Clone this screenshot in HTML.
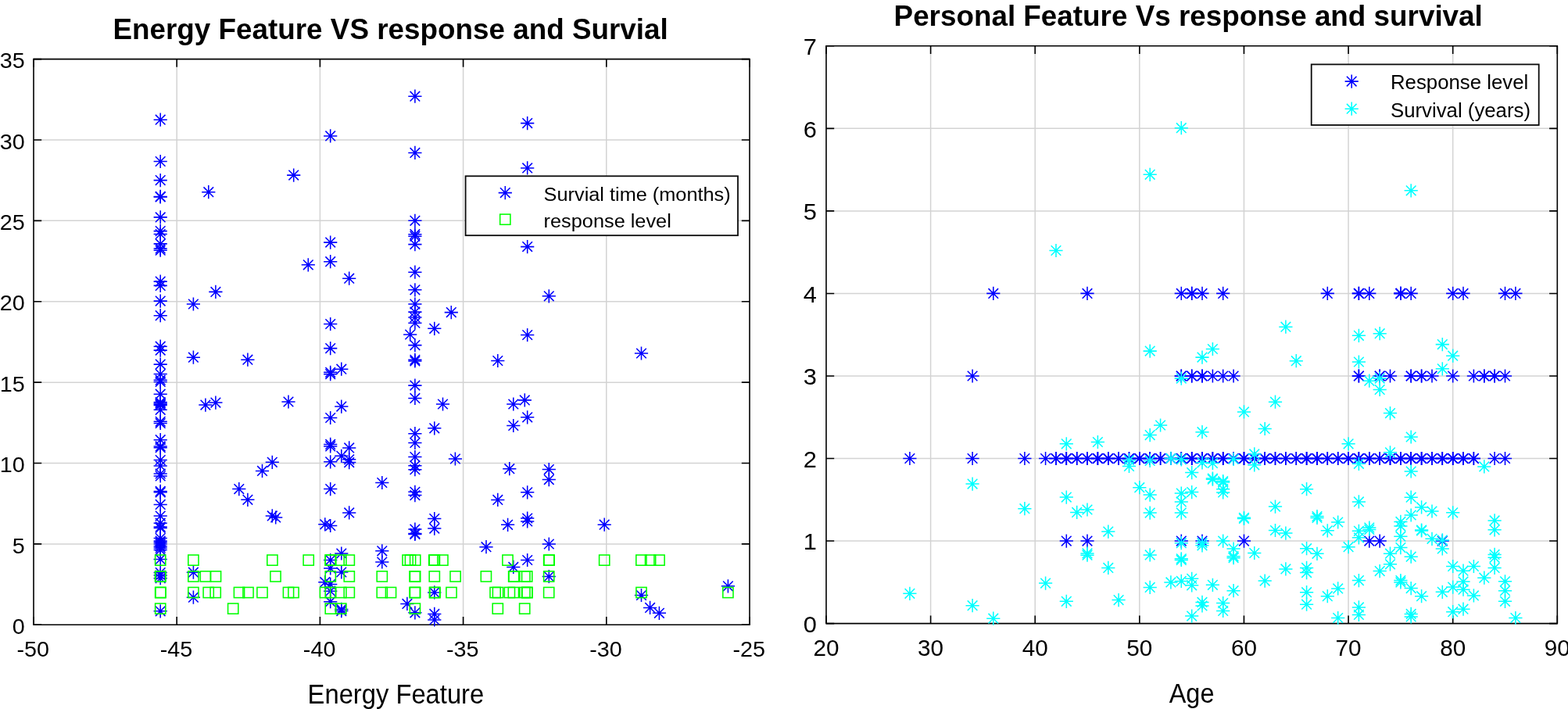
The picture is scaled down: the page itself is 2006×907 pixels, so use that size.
<!DOCTYPE html>
<html><head><meta charset="utf-8"><title>Feature plots</title>
<style>html,body{margin:0;padding:0;background:#fff;}body{width:2006px;height:907px;overflow:hidden;}svg{display:block;font-family:"Liberation Sans",sans-serif;}.g{stroke:#d3d3d3;stroke-width:1.5;fill:none}.ax{stroke:#000;stroke-width:1.6;fill:none}.b use{stroke:#0000ff}.c use{stroke:#00ffff}.s use{stroke:#00ff00}</style></head><body>
<svg width="2006" height="907" viewBox="0 0 2006 907">
<defs>
<g id="a" fill="none" stroke-width="1.55" stroke-linecap="butt"><path d="M-8.60 0H8.60M0 -8.60V8.60M-6.30 -6.30L6.30 6.30M-6.30 6.30L6.30 -6.30"/></g>
<rect id="q" x="-6.60" y="-6.60" width="13.20" height="13.20" fill="none" stroke-width="1.55"/>
</defs>
<rect width="2006" height="907" fill="#fff"/>
<path class="g" d="M226.20 75.60V799.30M409.40 75.60V799.30M592.60 75.60V799.30M775.80 75.60V799.30M43.00 695.91H959.00M43.00 592.53H959.00M43.00 489.14H959.00M43.00 385.76H959.00M43.00 282.37H959.00M43.00 178.99H959.00"/>
<path class="ax" d="M43.00 75.60H959.00V799.30H43.00Z"/>
<path class="ax" d="M43.00 799.30v-10.20M43.00 75.60v10.20M226.20 799.30v-10.20M226.20 75.60v10.20M409.40 799.30v-10.20M409.40 75.60v10.20M592.60 799.30v-10.20M592.60 75.60v10.20M775.80 799.30v-10.20M775.80 75.60v10.20M959.00 799.30v-10.20M959.00 75.60v10.20M43.00 799.30h10.20M959.00 799.30h-10.20M43.00 695.91h10.20M959.00 695.91h-10.20M43.00 592.53h10.20M959.00 592.53h-10.20M43.00 489.14h10.20M959.00 489.14h-10.20M43.00 385.76h10.20M959.00 385.76h-10.20M43.00 282.37h10.20M959.00 282.37h-10.20M43.00 178.99h10.20M959.00 178.99h-10.20M43.00 75.60h10.20M959.00 75.60h-10.20"/>
<g class="b">
<use href="#a" x="205.2" y="153.2"/><use href="#a" x="205.2" y="206.5"/><use href="#a" x="205.2" y="230.6"/><use href="#a" x="205.2" y="251.4"/><use href="#a" x="205.2" y="252.0"/><use href="#a" x="205.2" y="277.9"/><use href="#a" x="205.2" y="295.6"/><use href="#a" x="205.2" y="299.5"/><use href="#a" x="205.2" y="311.9"/><use href="#a" x="205.2" y="318.0"/><use href="#a" x="205.2" y="320.2"/><use href="#a" x="205.2" y="360.1"/><use href="#a" x="205.2" y="365.4"/><use href="#a" x="205.2" y="385.1"/><use href="#a" x="205.2" y="403.7"/><use href="#a" x="205.2" y="443.2"/><use href="#a" x="205.2" y="448.1"/><use href="#a" x="205.2" y="466.1"/><use href="#a" x="205.2" y="478.5"/><use href="#a" x="205.2" y="486.2"/><use href="#a" x="205.2" y="488.4"/><use href="#a" x="205.2" y="504.2"/><use href="#a" x="205.2" y="514.5"/><use href="#a" x="205.2" y="515.9"/><use href="#a" x="205.2" y="517.3"/><use href="#a" x="205.2" y="518.4"/><use href="#a" x="205.2" y="524.3"/><use href="#a" x="205.2" y="539.3"/><use href="#a" x="205.2" y="541.5"/><use href="#a" x="205.2" y="562.7"/><use href="#a" x="205.2" y="570.9"/><use href="#a" x="205.2" y="572.7"/><use href="#a" x="205.2" y="588.6"/><use href="#a" x="205.2" y="595.9"/><use href="#a" x="205.2" y="606.0"/><use href="#a" x="205.2" y="609.0"/><use href="#a" x="205.2" y="628.4"/><use href="#a" x="205.2" y="629.8"/><use href="#a" x="205.2" y="645.4"/><use href="#a" x="205.2" y="660.1"/><use href="#a" x="205.2" y="669.2"/><use href="#a" x="205.2" y="674.1"/><use href="#a" x="205.2" y="675.5"/><use href="#a" x="205.2" y="688.5"/><use href="#a" x="205.2" y="692.0"/><use href="#a" x="205.2" y="693.7"/><use href="#a" x="205.2" y="695.9"/><use href="#a" x="205.2" y="698.7"/><use href="#a" x="205.2" y="700.9"/><use href="#a" x="205.2" y="703.6"/><use href="#a" x="205.2" y="715.4"/><use href="#a" x="205.2" y="732.5"/><use href="#a" x="205.2" y="736.0"/><use href="#a" x="205.2" y="739.7"/><use href="#a" x="205.2" y="781.8"/><use href="#a" x="247.4" y="389.0"/><use href="#a" x="247.4" y="457.2"/><use href="#a" x="247.4" y="732.2"/><use href="#a" x="247.4" y="764.2"/><use href="#a" x="262.9" y="518.1"/><use href="#a" x="266.8" y="245.7"/><use href="#a" x="275.9" y="515.1"/><use href="#a" x="275.9" y="373.4"/><use href="#a" x="305.8" y="625.6"/><use href="#a" x="316.9" y="460.2"/><use href="#a" x="316.9" y="639.3"/><use href="#a" x="335.5" y="602.4"/><use href="#a" x="348.3" y="591.3"/><use href="#a" x="348.3" y="659.9"/><use href="#a" x="352.7" y="662.0"/><use href="#a" x="369.0" y="514.0"/><use href="#a" x="375.7" y="224.1"/><use href="#a" x="394.3" y="338.8"/><use href="#a" x="415.8" y="670.8"/><use href="#a" x="415.8" y="744.7"/><use href="#a" x="422.7" y="173.9"/><use href="#a" x="422.7" y="310.1"/><use href="#a" x="422.7" y="334.7"/><use href="#a" x="422.7" y="414.5"/><use href="#a" x="422.7" y="445.6"/><use href="#a" x="422.7" y="476.3"/><use href="#a" x="422.7" y="478.6"/><use href="#a" x="422.7" y="534.5"/><use href="#a" x="422.7" y="568.4"/><use href="#a" x="422.7" y="570.9"/><use href="#a" x="422.7" y="590.8"/><use href="#a" x="422.7" y="625.6"/><use href="#a" x="422.7" y="672.5"/><use href="#a" x="422.7" y="716.5"/><use href="#a" x="422.7" y="727.0"/><use href="#a" x="422.7" y="747.4"/><use href="#a" x="422.7" y="756.2"/><use href="#a" x="422.7" y="769.7"/><use href="#a" x="436.8" y="472.2"/><use href="#a" x="436.8" y="520.1"/><use href="#a" x="436.8" y="583.3"/><use href="#a" x="436.8" y="708.0"/><use href="#a" x="436.8" y="732.0"/><use href="#a" x="436.8" y="779.4"/><use href="#a" x="436.8" y="781.6"/><use href="#a" x="446.7" y="356.2"/><use href="#a" x="446.7" y="572.9"/><use href="#a" x="446.7" y="587.8"/><use href="#a" x="446.7" y="591.6"/><use href="#a" x="446.7" y="655.9"/><use href="#a" x="488.8" y="617.5"/><use href="#a" x="488.8" y="704.8"/><use href="#a" x="488.8" y="719.0"/><use href="#a" x="520.9" y="772.4"/><use href="#a" x="524.7" y="428.0"/><use href="#a" x="530.9" y="123.2"/><use href="#a" x="530.9" y="195.4"/><use href="#a" x="530.9" y="282.3"/><use href="#a" x="530.9" y="299.7"/><use href="#a" x="530.9" y="302.2"/><use href="#a" x="530.9" y="312.6"/><use href="#a" x="530.9" y="348.2"/><use href="#a" x="530.9" y="370.8"/><use href="#a" x="530.9" y="389.0"/><use href="#a" x="530.9" y="399.1"/><use href="#a" x="530.9" y="406.0"/><use href="#a" x="530.9" y="413.2"/><use href="#a" x="530.9" y="441.6"/><use href="#a" x="530.9" y="460.3"/><use href="#a" x="530.9" y="462.0"/><use href="#a" x="530.9" y="493.1"/><use href="#a" x="530.9" y="509.4"/><use href="#a" x="530.9" y="554.7"/><use href="#a" x="530.9" y="566.5"/><use href="#a" x="530.9" y="584.5"/><use href="#a" x="530.9" y="595.8"/><use href="#a" x="530.9" y="600.7"/><use href="#a" x="530.9" y="629.3"/><use href="#a" x="530.9" y="633.6"/><use href="#a" x="530.9" y="677.1"/><use href="#a" x="530.9" y="682.4"/><use href="#a" x="530.9" y="683.5"/><use href="#a" x="530.9" y="783.8"/><use href="#a" x="555.8" y="420.3"/><use href="#a" x="555.8" y="547.8"/><use href="#a" x="555.8" y="663.5"/><use href="#a" x="555.8" y="676.1"/><use href="#a" x="555.8" y="757.9"/><use href="#a" x="555.8" y="785.4"/><use href="#a" x="555.8" y="792.9"/><use href="#a" x="566.5" y="517.0"/><use href="#a" x="577.3" y="399.6"/><use href="#a" x="582.4" y="587.0"/><use href="#a" x="622.0" y="699.7"/><use href="#a" x="636.8" y="461.5"/><use href="#a" x="636.8" y="639.4"/><use href="#a" x="649.6" y="671.3"/><use href="#a" x="651.8" y="599.7"/><use href="#a" x="656.8" y="517.0"/><use href="#a" x="656.8" y="544.5"/><use href="#a" x="656.8" y="725.4"/><use href="#a" x="671.3" y="511.9"/><use href="#a" x="674.7" y="157.6"/><use href="#a" x="674.7" y="214.9"/><use href="#a" x="674.7" y="315.6"/><use href="#a" x="674.7" y="428.5"/><use href="#a" x="674.7" y="533.8"/><use href="#a" x="674.7" y="629.8"/><use href="#a" x="674.7" y="663.0"/><use href="#a" x="674.7" y="667.0"/><use href="#a" x="674.7" y="716.5"/><use href="#a" x="702.3" y="378.8"/><use href="#a" x="702.3" y="600.6"/><use href="#a" x="702.3" y="613.6"/><use href="#a" x="702.3" y="696.0"/><use href="#a" x="702.3" y="737.5"/><use href="#a" x="773.2" y="671.2"/><use href="#a" x="820.5" y="452.0"/><use href="#a" x="820.5" y="761.5"/><use href="#a" x="831.6" y="777.4"/><use href="#a" x="843.4" y="784.3"/><use href="#a" x="931.4" y="749.8"/>
</g>
<g class="s">
<use href="#q" x="205.2" y="716.6"/><use href="#q" x="247.4" y="716.6"/><use href="#q" x="348.4" y="716.6"/><use href="#q" x="394.7" y="716.6"/><use href="#q" x="422.8" y="716.6"/><use href="#q" x="422.8" y="716.6"/><use href="#q" x="436.3" y="716.6"/><use href="#q" x="446.8" y="716.6"/><use href="#q" x="521.6" y="716.6"/><use href="#q" x="525.0" y="716.6"/><use href="#q" x="531.2" y="716.6"/><use href="#q" x="555.3" y="716.6"/><use href="#q" x="555.9" y="716.6"/><use href="#q" x="566.4" y="716.6"/><use href="#q" x="649.5" y="716.6"/><use href="#q" x="702.2" y="716.6"/><use href="#q" x="702.6" y="716.6"/><use href="#q" x="773.2" y="716.6"/><use href="#q" x="820.4" y="716.6"/><use href="#q" x="832.1" y="716.6"/><use href="#q" x="843.5" y="716.6"/><use href="#q" x="205.2" y="737.4"/><use href="#q" x="205.2" y="737.4"/><use href="#q" x="247.4" y="737.4"/><use href="#q" x="262.9" y="737.4"/><use href="#q" x="276.0" y="737.4"/><use href="#q" x="352.5" y="737.4"/><use href="#q" x="422.8" y="737.4"/><use href="#q" x="446.8" y="737.4"/><use href="#q" x="488.8" y="737.4"/><use href="#q" x="530.7" y="737.4"/><use href="#q" x="531.1" y="737.4"/><use href="#q" x="555.8" y="737.4"/><use href="#q" x="582.6" y="737.4"/><use href="#q" x="621.9" y="737.4"/><use href="#q" x="657.2" y="737.4"/><use href="#q" x="657.6" y="737.4"/><use href="#q" x="671.4" y="737.4"/><use href="#q" x="674.2" y="737.4"/><use href="#q" x="702.2" y="737.4"/><use href="#q" x="205.2" y="758.0"/><use href="#q" x="205.5" y="758.0"/><use href="#q" x="247.4" y="758.0"/><use href="#q" x="266.7" y="758.0"/><use href="#q" x="275.7" y="758.0"/><use href="#q" x="306.0" y="758.0"/><use href="#q" x="317.5" y="758.0"/><use href="#q" x="335.5" y="758.0"/><use href="#q" x="369.0" y="758.0"/><use href="#q" x="375.5" y="758.0"/><use href="#q" x="416.0" y="758.0"/><use href="#q" x="422.8" y="758.0"/><use href="#q" x="436.3" y="758.0"/><use href="#q" x="446.8" y="758.0"/><use href="#q" x="488.8" y="758.0"/><use href="#q" x="500.0" y="758.0"/><use href="#q" x="530.7" y="758.0"/><use href="#q" x="531.1" y="758.0"/><use href="#q" x="556.0" y="758.0"/><use href="#q" x="556.5" y="758.0"/><use href="#q" x="577.5" y="758.0"/><use href="#q" x="633.6" y="758.0"/><use href="#q" x="637.0" y="758.0"/><use href="#q" x="651.9" y="758.0"/><use href="#q" x="656.9" y="758.0"/><use href="#q" x="671.4" y="758.0"/><use href="#q" x="674.2" y="758.0"/><use href="#q" x="674.6" y="758.0"/><use href="#q" x="702.2" y="758.0"/><use href="#q" x="820.5" y="758.0"/><use href="#q" x="931.4" y="758.0"/><use href="#q" x="205.2" y="778.6"/><use href="#q" x="298.2" y="778.6"/><use href="#q" x="422.8" y="778.6"/><use href="#q" x="436.3" y="778.6"/><use href="#q" x="530.9" y="778.6"/><use href="#q" x="636.8" y="778.6"/><use href="#q" x="671.2" y="778.6"/>
</g>
<text transform="translate(42.20 840.00) scale(1.0420 1)" font-size="27.60px" text-anchor="middle">-50</text>
<text transform="translate(225.40 840.00) scale(1.0420 1)" font-size="27.60px" text-anchor="middle">-45</text>
<text transform="translate(408.60 840.00) scale(1.0420 1)" font-size="27.60px" text-anchor="middle">-40</text>
<text transform="translate(591.80 840.00) scale(1.0420 1)" font-size="27.60px" text-anchor="middle">-35</text>
<text transform="translate(775.00 840.00) scale(1.0420 1)" font-size="27.60px" text-anchor="middle">-30</text>
<text transform="translate(958.20 840.00) scale(1.0420 1)" font-size="27.60px" text-anchor="middle">-25</text>
<text transform="translate(31.70 811.00) scale(1.0420 1)" font-size="27.60px" text-anchor="end">0</text>
<text transform="translate(31.70 707.61) scale(1.0420 1)" font-size="27.60px" text-anchor="end">5</text>
<text transform="translate(31.70 604.23) scale(1.0420 1)" font-size="27.60px" text-anchor="end">10</text>
<text transform="translate(31.70 500.84) scale(1.0420 1)" font-size="27.60px" text-anchor="end">15</text>
<text transform="translate(31.70 397.46) scale(1.0420 1)" font-size="27.60px" text-anchor="end">20</text>
<text transform="translate(31.70 294.07) scale(1.0420 1)" font-size="27.60px" text-anchor="end">25</text>
<text transform="translate(31.70 190.69) scale(1.0420 1)" font-size="27.60px" text-anchor="end">30</text>
<text transform="translate(31.70 87.30) scale(1.0420 1)" font-size="27.60px" text-anchor="end">35</text>
<text x="499.60" y="50.10" font-size="36.85px" text-anchor="middle" font-weight="bold">Energy Feature VS response and Survial</text>
<text transform="translate(506.40 900.00) scale(0.9550 1)" font-size="34.30px" text-anchor="middle">Energy Feature</text>
<rect x="595.6" y="225.3" width="348.4" height="75.9" fill="#fff" stroke="#0a0a0a" stroke-width="1.8"/>
<g class="b"><use href="#a" x="646.3" y="246.6"/></g>
<g class="s"><use href="#q" x="646.3" y="280.7"/></g>
<text transform="translate(695.60 256.60) scale(1.0550 1)" font-size="24.00px">Survial time (months)</text>
<text transform="translate(695.60 290.80) scale(1.0550 1)" font-size="24.00px">response level</text>
<path class="g" d="M1190.61 58.80V797.60M1324.23 58.80V797.60M1457.84 58.80V797.60M1591.46 58.80V797.60M1725.07 58.80V797.60M1858.69 58.80V797.60M1057.00 692.06H1992.30M1057.00 586.51H1992.30M1057.00 480.97H1992.30M1057.00 375.43H1992.30M1057.00 269.89H1992.30M1057.00 164.34H1992.30"/>
<path class="ax" d="M1057.00 58.80H1992.30V797.60H1057.00Z"/>
<path class="ax" d="M1057.00 797.60v-10.20M1057.00 58.80v10.20M1190.61 797.60v-10.20M1190.61 58.80v10.20M1324.23 797.60v-10.20M1324.23 58.80v10.20M1457.84 797.60v-10.20M1457.84 58.80v10.20M1591.46 797.60v-10.20M1591.46 58.80v10.20M1725.07 797.60v-10.20M1725.07 58.80v10.20M1858.69 797.60v-10.20M1858.69 58.80v10.20M1992.30 797.60v-10.20M1992.30 58.80v10.20M1057.00 797.60h10.20M1992.30 797.60h-10.20M1057.00 692.06h10.20M1992.30 692.06h-10.20M1057.00 586.51h10.20M1992.30 586.51h-10.20M1057.00 480.97h10.20M1992.30 480.97h-10.20M1057.00 375.43h10.20M1992.30 375.43h-10.20M1057.00 269.89h10.20M1992.30 269.89h-10.20M1057.00 164.34h10.20M1992.30 164.34h-10.20M1057.00 58.80h10.20M1992.30 58.80h-10.20"/>
<g class="b">
<use href="#a" x="1270.8" y="375.4"/><use href="#a" x="1391.0" y="375.4"/><use href="#a" x="1511.3" y="375.4"/><use href="#a" x="1524.7" y="375.4"/><use href="#a" x="1538.0" y="375.4"/><use href="#a" x="1564.7" y="375.4"/><use href="#a" x="1698.3" y="375.4"/><use href="#a" x="1738.4" y="375.4"/><use href="#a" x="1751.8" y="375.4"/><use href="#a" x="1791.9" y="375.4"/><use href="#a" x="1791.9" y="375.4"/><use href="#a" x="1805.2" y="375.4"/><use href="#a" x="1858.7" y="375.4"/><use href="#a" x="1872.0" y="375.4"/><use href="#a" x="1925.5" y="375.4"/><use href="#a" x="1938.9" y="375.4"/><use href="#a" x="1244.1" y="481.0"/><use href="#a" x="1511.3" y="481.0"/><use href="#a" x="1524.7" y="481.0"/><use href="#a" x="1538.0" y="481.0"/><use href="#a" x="1551.4" y="481.0"/><use href="#a" x="1564.7" y="481.0"/><use href="#a" x="1578.1" y="481.0"/><use href="#a" x="1738.4" y="481.0"/><use href="#a" x="1765.2" y="481.0"/><use href="#a" x="1778.5" y="481.0"/><use href="#a" x="1805.2" y="481.0"/><use href="#a" x="1818.6" y="481.0"/><use href="#a" x="1832.0" y="481.0"/><use href="#a" x="1858.7" y="481.0"/><use href="#a" x="1885.4" y="481.0"/><use href="#a" x="1898.8" y="481.0"/><use href="#a" x="1912.1" y="481.0"/><use href="#a" x="1925.5" y="481.0"/><use href="#a" x="1163.9" y="586.5"/><use href="#a" x="1244.1" y="586.5"/><use href="#a" x="1310.9" y="586.5"/><use href="#a" x="1337.6" y="586.5"/><use href="#a" x="1351.0" y="586.5"/><use href="#a" x="1364.3" y="586.5"/><use href="#a" x="1377.7" y="586.5"/><use href="#a" x="1391.0" y="586.5"/><use href="#a" x="1404.4" y="586.5"/><use href="#a" x="1417.8" y="586.5"/><use href="#a" x="1431.1" y="586.5"/><use href="#a" x="1444.5" y="586.5"/><use href="#a" x="1457.8" y="586.5"/><use href="#a" x="1471.2" y="586.5"/><use href="#a" x="1484.6" y="586.5"/><use href="#a" x="1497.9" y="586.5"/><use href="#a" x="1511.3" y="586.5"/><use href="#a" x="1524.7" y="586.5"/><use href="#a" x="1538.0" y="586.5"/><use href="#a" x="1551.4" y="586.5"/><use href="#a" x="1564.7" y="586.5"/><use href="#a" x="1578.1" y="586.5"/><use href="#a" x="1591.5" y="586.5"/><use href="#a" x="1604.8" y="586.5"/><use href="#a" x="1618.2" y="586.5"/><use href="#a" x="1631.5" y="586.5"/><use href="#a" x="1644.9" y="586.5"/><use href="#a" x="1658.3" y="586.5"/><use href="#a" x="1671.6" y="586.5"/><use href="#a" x="1685.0" y="586.5"/><use href="#a" x="1698.3" y="586.5"/><use href="#a" x="1711.7" y="586.5"/><use href="#a" x="1725.1" y="586.5"/><use href="#a" x="1738.4" y="586.5"/><use href="#a" x="1751.8" y="586.5"/><use href="#a" x="1765.2" y="586.5"/><use href="#a" x="1778.5" y="586.5"/><use href="#a" x="1791.9" y="586.5"/><use href="#a" x="1805.2" y="586.5"/><use href="#a" x="1818.6" y="586.5"/><use href="#a" x="1832.0" y="586.5"/><use href="#a" x="1845.3" y="586.5"/><use href="#a" x="1858.7" y="586.5"/><use href="#a" x="1872.0" y="586.5"/><use href="#a" x="1885.4" y="586.5"/><use href="#a" x="1912.1" y="586.5"/><use href="#a" x="1925.5" y="586.5"/><use href="#a" x="1364.3" y="692.1"/><use href="#a" x="1391.0" y="692.1"/><use href="#a" x="1511.3" y="692.1"/><use href="#a" x="1538.0" y="692.1"/><use href="#a" x="1591.5" y="692.1"/><use href="#a" x="1751.8" y="692.1"/><use href="#a" x="1765.2" y="692.1"/><use href="#a" x="1845.3" y="692.1"/><use href="#a" x="1351.0" y="586.5"/><use href="#a" x="1364.3" y="586.5"/><use href="#a" x="1377.7" y="586.5"/><use href="#a" x="1391.0" y="586.5"/><use href="#a" x="1404.4" y="586.5"/><use href="#a" x="1417.8" y="586.5"/><use href="#a" x="1431.1" y="586.5"/><use href="#a" x="1444.5" y="586.5"/><use href="#a" x="1457.8" y="586.5"/><use href="#a" x="1471.2" y="586.5"/><use href="#a" x="1484.6" y="586.5"/><use href="#a" x="1497.9" y="586.5"/><use href="#a" x="1511.3" y="586.5"/><use href="#a" x="1524.7" y="586.5"/><use href="#a" x="1538.0" y="586.5"/><use href="#a" x="1551.4" y="586.5"/><use href="#a" x="1564.7" y="586.5"/><use href="#a" x="1578.1" y="586.5"/><use href="#a" x="1591.5" y="586.5"/><use href="#a" x="1604.8" y="586.5"/><use href="#a" x="1618.2" y="586.5"/><use href="#a" x="1631.5" y="586.5"/><use href="#a" x="1644.9" y="586.5"/><use href="#a" x="1658.3" y="586.5"/><use href="#a" x="1671.6" y="586.5"/><use href="#a" x="1685.0" y="586.5"/><use href="#a" x="1698.3" y="586.5"/><use href="#a" x="1711.7" y="586.5"/><use href="#a" x="1725.1" y="586.5"/><use href="#a" x="1738.4" y="586.5"/><use href="#a" x="1751.8" y="586.5"/><use href="#a" x="1765.2" y="586.5"/><use href="#a" x="1778.5" y="586.5"/><use href="#a" x="1791.9" y="586.5"/><use href="#a" x="1805.2" y="586.5"/><use href="#a" x="1818.6" y="586.5"/><use href="#a" x="1832.0" y="586.5"/><use href="#a" x="1845.3" y="586.5"/><use href="#a" x="1858.7" y="586.5"/><use href="#a" x="1872.0" y="586.5"/><use href="#a" x="1885.4" y="586.5"/><use href="#a" x="1364.3" y="586.5"/><use href="#a" x="1404.4" y="586.5"/><use href="#a" x="1417.8" y="586.5"/><use href="#a" x="1457.8" y="586.5"/><use href="#a" x="1471.2" y="586.5"/><use href="#a" x="1511.3" y="586.5"/><use href="#a" x="1524.7" y="586.5"/><use href="#a" x="1538.0" y="586.5"/><use href="#a" x="1551.4" y="586.5"/><use href="#a" x="1564.7" y="586.5"/><use href="#a" x="1591.5" y="586.5"/><use href="#a" x="1604.8" y="586.5"/><use href="#a" x="1618.2" y="586.5"/><use href="#a" x="1671.6" y="586.5"/><use href="#a" x="1685.0" y="586.5"/><use href="#a" x="1725.1" y="586.5"/><use href="#a" x="1738.4" y="586.5"/><use href="#a" x="1751.8" y="586.5"/><use href="#a" x="1778.5" y="586.5"/><use href="#a" x="1791.9" y="586.5"/><use href="#a" x="1805.2" y="586.5"/><use href="#a" x="1818.6" y="586.5"/><use href="#a" x="1845.3" y="586.5"/><use href="#a" x="1858.7" y="586.5"/><use href="#a" x="1872.0" y="586.5"/><use href="#a" x="1511.3" y="481.0"/><use href="#a" x="1524.7" y="481.0"/><use href="#a" x="1538.0" y="481.0"/><use href="#a" x="1738.4" y="481.0"/><use href="#a" x="1765.2" y="481.0"/><use href="#a" x="1805.2" y="481.0"/><use href="#a" x="1818.6" y="481.0"/><use href="#a" x="1898.8" y="481.0"/><use href="#a" x="1912.1" y="481.0"/><use href="#a" x="1524.7" y="375.4"/><use href="#a" x="1791.9" y="375.4"/><use href="#a" x="1738.4" y="375.4"/>
</g>
<g class="c">
<use href="#a" x="1163.9" y="759.3"/><use href="#a" x="1244.1" y="619.1"/><use href="#a" x="1244.1" y="774.7"/><use href="#a" x="1270.8" y="791.2"/><use href="#a" x="1310.9" y="650.7"/><use href="#a" x="1337.6" y="746.1"/><use href="#a" x="1351.0" y="320.5"/><use href="#a" x="1364.3" y="567.8"/><use href="#a" x="1364.3" y="636.1"/><use href="#a" x="1364.3" y="769.3"/><use href="#a" x="1377.7" y="655.4"/><use href="#a" x="1391.0" y="652.0"/><use href="#a" x="1391.0" y="707.9"/><use href="#a" x="1391.0" y="710.2"/><use href="#a" x="1404.4" y="565.5"/><use href="#a" x="1417.8" y="680.1"/><use href="#a" x="1417.8" y="726.4"/><use href="#a" x="1431.1" y="767.6"/><use href="#a" x="1444.5" y="588.7"/><use href="#a" x="1444.5" y="596.4"/><use href="#a" x="1457.8" y="623.7"/><use href="#a" x="1471.2" y="223.3"/><use href="#a" x="1471.2" y="449.1"/><use href="#a" x="1471.2" y="556.6"/><use href="#a" x="1471.2" y="589.4"/><use href="#a" x="1471.2" y="633.1"/><use href="#a" x="1471.2" y="656.1"/><use href="#a" x="1471.2" y="709.9"/><use href="#a" x="1471.2" y="751.4"/><use href="#a" x="1484.6" y="544.0"/><use href="#a" x="1497.9" y="586.4"/><use href="#a" x="1497.9" y="744.9"/><use href="#a" x="1511.3" y="163.7"/><use href="#a" x="1511.3" y="484.1"/><use href="#a" x="1511.3" y="587.9"/><use href="#a" x="1511.3" y="631.1"/><use href="#a" x="1511.3" y="641.9"/><use href="#a" x="1511.3" y="656.1"/><use href="#a" x="1511.3" y="694.7"/><use href="#a" x="1511.3" y="714.8"/><use href="#a" x="1511.3" y="716.4"/><use href="#a" x="1511.3" y="743.4"/><use href="#a" x="1524.7" y="604.6"/><use href="#a" x="1524.7" y="629.6"/><use href="#a" x="1524.7" y="740.3"/><use href="#a" x="1524.7" y="748.8"/><use href="#a" x="1524.7" y="788.1"/><use href="#a" x="1538.0" y="457.1"/><use href="#a" x="1538.0" y="552.7"/><use href="#a" x="1538.0" y="591.8"/><use href="#a" x="1538.0" y="694.7"/><use href="#a" x="1538.0" y="697.8"/><use href="#a" x="1538.0" y="770.4"/><use href="#a" x="1538.0" y="775.0"/><use href="#a" x="1551.4" y="446.5"/><use href="#a" x="1551.4" y="592.5"/><use href="#a" x="1551.4" y="612.0"/><use href="#a" x="1551.4" y="613.2"/><use href="#a" x="1551.4" y="748.3"/><use href="#a" x="1564.7" y="615.5"/><use href="#a" x="1564.7" y="617.1"/><use href="#a" x="1564.7" y="625.7"/><use href="#a" x="1564.7" y="630.0"/><use href="#a" x="1564.7" y="692.1"/><use href="#a" x="1564.7" y="771.5"/><use href="#a" x="1564.7" y="781.5"/><use href="#a" x="1578.1" y="587.4"/><use href="#a" x="1578.1" y="702.0"/><use href="#a" x="1578.1" y="711.7"/><use href="#a" x="1578.1" y="713.7"/><use href="#a" x="1578.1" y="755.7"/><use href="#a" x="1591.5" y="526.9"/><use href="#a" x="1591.5" y="662.3"/><use href="#a" x="1591.5" y="663.5"/><use href="#a" x="1604.8" y="580.9"/><use href="#a" x="1604.8" y="594.8"/><use href="#a" x="1604.8" y="707.5"/><use href="#a" x="1618.2" y="548.5"/><use href="#a" x="1618.2" y="743.1"/><use href="#a" x="1631.5" y="514.2"/><use href="#a" x="1631.5" y="648.1"/><use href="#a" x="1631.5" y="678.5"/><use href="#a" x="1644.9" y="418.2"/><use href="#a" x="1644.9" y="682.1"/><use href="#a" x="1644.9" y="727.9"/><use href="#a" x="1658.3" y="461.7"/><use href="#a" x="1671.6" y="625.7"/><use href="#a" x="1671.6" y="701.7"/><use href="#a" x="1671.6" y="726.4"/><use href="#a" x="1671.6" y="732.6"/><use href="#a" x="1671.6" y="757.7"/><use href="#a" x="1671.6" y="773.2"/><use href="#a" x="1685.0" y="660.5"/><use href="#a" x="1685.0" y="662.5"/><use href="#a" x="1685.0" y="708.3"/><use href="#a" x="1698.3" y="678.8"/><use href="#a" x="1698.3" y="762.7"/><use href="#a" x="1711.7" y="668.0"/><use href="#a" x="1711.7" y="752.9"/><use href="#a" x="1711.7" y="790.5"/><use href="#a" x="1725.1" y="567.8"/><use href="#a" x="1725.1" y="699.7"/><use href="#a" x="1738.4" y="429.3"/><use href="#a" x="1738.4" y="463.0"/><use href="#a" x="1738.4" y="593.3"/><use href="#a" x="1738.4" y="641.9"/><use href="#a" x="1738.4" y="679.3"/><use href="#a" x="1738.4" y="687.8"/><use href="#a" x="1738.4" y="742.6"/><use href="#a" x="1738.4" y="776.9"/><use href="#a" x="1738.4" y="786.4"/><use href="#a" x="1751.8" y="487.2"/><use href="#a" x="1751.8" y="675.0"/><use href="#a" x="1751.8" y="677.5"/><use href="#a" x="1765.2" y="426.7"/><use href="#a" x="1765.2" y="484.1"/><use href="#a" x="1765.2" y="498.5"/><use href="#a" x="1765.2" y="730.6"/><use href="#a" x="1778.5" y="528.6"/><use href="#a" x="1778.5" y="578.8"/><use href="#a" x="1778.5" y="708.2"/><use href="#a" x="1778.5" y="721.8"/><use href="#a" x="1791.9" y="667.4"/><use href="#a" x="1791.9" y="673.1"/><use href="#a" x="1791.9" y="686.2"/><use href="#a" x="1791.9" y="700.6"/><use href="#a" x="1791.9" y="742.6"/><use href="#a" x="1791.9" y="744.9"/><use href="#a" x="1805.2" y="243.8"/><use href="#a" x="1805.2" y="559.0"/><use href="#a" x="1805.2" y="603.0"/><use href="#a" x="1805.2" y="636.2"/><use href="#a" x="1805.2" y="659.0"/><use href="#a" x="1805.2" y="712.2"/><use href="#a" x="1805.2" y="752.6"/><use href="#a" x="1805.2" y="785.4"/><use href="#a" x="1805.2" y="788.9"/><use href="#a" x="1818.6" y="648.9"/><use href="#a" x="1818.6" y="678.0"/><use href="#a" x="1818.6" y="679.0"/><use href="#a" x="1818.6" y="762.7"/><use href="#a" x="1832.0" y="654.0"/><use href="#a" x="1832.0" y="689.3"/><use href="#a" x="1845.3" y="440.6"/><use href="#a" x="1845.3" y="471.8"/><use href="#a" x="1845.3" y="690.9"/><use href="#a" x="1845.3" y="702.0"/><use href="#a" x="1845.3" y="757.3"/><use href="#a" x="1858.7" y="455.2"/><use href="#a" x="1858.7" y="655.8"/><use href="#a" x="1858.7" y="724.5"/><use href="#a" x="1858.7" y="751.1"/><use href="#a" x="1858.7" y="782.7"/><use href="#a" x="1872.0" y="730.2"/><use href="#a" x="1872.0" y="744.1"/><use href="#a" x="1872.0" y="754.2"/><use href="#a" x="1872.0" y="779.2"/><use href="#a" x="1885.4" y="724.5"/><use href="#a" x="1885.4" y="761.9"/><use href="#a" x="1898.8" y="596.9"/><use href="#a" x="1898.8" y="739.2"/><use href="#a" x="1912.1" y="665.9"/><use href="#a" x="1912.1" y="677.8"/><use href="#a" x="1912.1" y="709.4"/><use href="#a" x="1912.1" y="713.3"/><use href="#a" x="1912.1" y="726.4"/><use href="#a" x="1925.5" y="743.8"/><use href="#a" x="1925.5" y="755.7"/><use href="#a" x="1925.5" y="769.3"/><use href="#a" x="1938.9" y="790.5"/>
</g>
<text transform="translate(1057.00 839.00) scale(1.0040 1)" font-size="29.60px" text-anchor="middle">20</text>
<text transform="translate(1190.61 839.00) scale(1.0040 1)" font-size="29.60px" text-anchor="middle">30</text>
<text transform="translate(1324.23 839.00) scale(1.0040 1)" font-size="29.60px" text-anchor="middle">40</text>
<text transform="translate(1457.84 839.00) scale(1.0040 1)" font-size="29.60px" text-anchor="middle">50</text>
<text transform="translate(1591.46 839.00) scale(1.0040 1)" font-size="29.60px" text-anchor="middle">60</text>
<text transform="translate(1725.07 839.00) scale(1.0040 1)" font-size="29.60px" text-anchor="middle">70</text>
<text transform="translate(1858.69 839.00) scale(1.0040 1)" font-size="29.60px" text-anchor="middle">80</text>
<text transform="translate(1992.30 839.00) scale(1.0040 1)" font-size="29.60px" text-anchor="middle">90</text>
<text transform="translate(1044.90 808.80) scale(1.0400 1)" font-size="29.60px" text-anchor="end">0</text>
<text transform="translate(1044.90 703.26) scale(1.0400 1)" font-size="29.60px" text-anchor="end">1</text>
<text transform="translate(1044.90 597.71) scale(1.0400 1)" font-size="29.60px" text-anchor="end">2</text>
<text transform="translate(1044.90 492.17) scale(1.0400 1)" font-size="29.60px" text-anchor="end">3</text>
<text transform="translate(1044.90 386.63) scale(1.0400 1)" font-size="29.60px" text-anchor="end">4</text>
<text transform="translate(1044.90 281.09) scale(1.0400 1)" font-size="29.60px" text-anchor="end">5</text>
<text transform="translate(1044.90 175.54) scale(1.0400 1)" font-size="29.60px" text-anchor="end">6</text>
<text transform="translate(1044.90 70.00) scale(1.0400 1)" font-size="29.60px" text-anchor="end">7</text>
<text x="1520.20" y="32.90" font-size="36.85px" text-anchor="middle" font-weight="bold">Personal Feature Vs response and survival</text>
<text transform="translate(1524.60 899.00) scale(0.9500 1)" font-size="34.20px" text-anchor="middle">Age</text>
<rect x="1677.7" y="82.4" width="291.0" height="77.6" fill="#fff" stroke="#0a0a0a" stroke-width="1.8"/>
<g class="b"><use href="#a" x="1729.2" y="104.1"/></g>
<g class="c"><use href="#a" x="1729.2" y="139.2"/></g>
<text transform="translate(1779.00 113.90) scale(1.0150 1)" font-size="25.40px">Response level</text>
<text transform="translate(1779.00 149.50) scale(1.0150 1)" font-size="25.40px">Survival (years)</text>
</svg></body></html>
